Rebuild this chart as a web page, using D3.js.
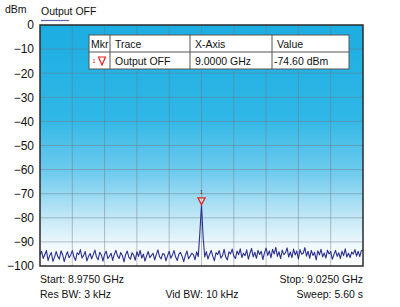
<!DOCTYPE html>
<html>
<head>
<meta charset="utf-8">
<script src="https://cdn.jsdelivr.net/npm/d3@7"></script>
<style>
  body { margin: 0; background: #fff; }
  svg { display: block; font-family: "Liberation Sans", Arial, sans-serif; }
  .ylab { font-size: 12px; fill: #111; }
  .info { font-size: 10.5px; fill: #111; }
  .tbl { font-size: 10.5px; fill: #111; }
</style>
</head>
<body>
<svg class="chart"></svg>
<script>
// Chart values
var startGHz = 8.975, stopGHz = 9.025;
var yTicks = [0, -10, -20, -30, -40, -50, -60, -70, -80, -90, -100];
var traceName = "Output OFF";
var markerFreq = 9.0000, markerLevel = -74.60;
var tableHeader = ["Mkr", "Trace", "X-Axis", "Value"];
var tableRow = ["1", "Output OFF", "9.0000 GHz", "-74.60 dBm"];
var footerLeft = ["Start: 8.9750 GHz", "Res BW: 3 kHz"];
var footerMid = ["", "Vid BW: 10 kHz"];
var footerRight = ["Stop: 9.0250 GHz", "Sweep: 5.60 s"];

// trace levels (dBm), 201 points across the span
var levels = [
  -95.5,-93.9,-96.9,-95.2,-93.6,-97.8,-95.6,-94.4,-98.1,-96.3,-94.0,-96.0,-97.2,-93.7,-95.3,-98.2,-95.8,-94.1,-96.6,-95.4,
  -93.6,-96.2,-97.7,-94.5,-95.3,-93.2,-96.7,-95.6,-94.0,-97.9,-96.1,-94.8,-97.0,-95.2,-93.4,-96.3,-97.4,-94.3,-95.4,-98.0,
  -95.1,-93.9,-96.9,-96.0,-94.7,-97.7,-95.2,-93.5,-95.8,-96.9,-94.4,-95.6,-98.3,-95.3,-93.8,-96.3,-97.2,-94.5,-95.5,-97.6,
  -94.1,-96.0,-93.5,-96.7,-95.1,-98.0,-95.8,-94.0,-96.5,-95.6,-94.7,-97.5,-95.3,-93.3,-96.1,-97.1,-94.8,-95.2,-97.9,-95.7,
  -93.9,-96.8,-95.4,-93.6,-96.3,-97.7,-95.1,-94.4,-96.0,-98.2,-95.6,-93.8,-97.0,-95.9,-94.7,-95.3,-97.4,-94.1,-96.1,-86.0,
  -74.6,-88.0,-96.2,-94.0,-97.1,-95.2,-93.5,-96.0,-97.8,-94.4,-95.3,-93.6,-96.7,-95.7,-93.1,-96.3,-97.5,-94.1,-95.0,-93.0,
  -95.8,-96.9,-93.8,-95.3,-92.9,-96.5,-94.7,-95.7,-93.3,-97.2,-94.8,-92.7,-96.2,-94.3,-96.8,-93.5,-95.2,-93.9,-97.4,-94.6,
  -92.6,-95.6,-93.7,-96.6,-93.1,-95.0,-92.3,-96.0,-94.1,-96.9,-93.4,-95.3,-94.5,-92.5,-96.3,-94.2,-96.5,-93.0,-95.4,-93.8,
  -97.1,-93.2,-95.1,-94.7,-92.4,-95.9,-93.9,-96.8,-93.5,-95.6,-94.3,-97.5,-93.7,-95.4,-93.1,-96.2,-94.6,-96.7,-93.4,-95.0,
  -94.0,-97.2,-95.3,-93.5,-96.0,-94.5,-96.9,-93.8,-95.7,-92.9,-96.3,-94.7,-96.5,-94.2,-95.1,-93.2,-95.9,-93.9,-96.1,-93.6,
  -93.4
];

var W = 400, H = 307;
var margin = {left: 40, right: 37, top: 25, bottom: 41};
var width = W - margin.left - margin.right,
    height = H - margin.top - margin.bottom;

var data = levels.map(function(v, i) {
  return {f: startGHz + (stopGHz - startGHz) * i / (levels.length - 1), v: v};
});

var x = d3.scaleLinear().domain([startGHz, stopGHz]).range([0, width]);
var y = d3.scaleLinear().domain([-100, 0]).range([height, 0]);

var svg = d3.select(".chart").attr("width", W).attr("height", H);

var defs = svg.append("defs");
var grad = defs.append("linearGradient")
    .attr("id", "bg").attr("x1", 0).attr("y1", 0).attr("x2", 0).attr("y2", 1);
grad.append("stop").attr("offset", "0%").attr("stop-color", "#1cade2");
grad.append("stop").attr("offset", "38%").attr("stop-color", "#2fb7e6");
grad.append("stop").attr("offset", "62%").attr("stop-color", "#72ccee");
grad.append("stop").attr("offset", "80%").attr("stop-color", "#c3e8f6");
grad.append("stop").attr("offset", "92%").attr("stop-color", "#f2fafd");
grad.append("stop").attr("offset", "100%").attr("stop-color", "#ffffff");

var chart = svg.append("g")
    .attr("transform", "translate(" + margin.left + "," + margin.top + ")");

// Plot background
chart.append("rect")
    .attr("width", width).attr("height", height)
    .attr("fill", "url(#bg)");

// Grid
var xGrid = d3.range(0, 11).map(function(i) { return startGHz + (stopGHz - startGHz) * i / 10; });
chart.append("g").selectAll("line")
    .data(xGrid.slice(1, -1))
  .enter().append("line")
    .attr("x1", function(d) { return x(d); }).attr("x2", function(d) { return x(d); })
    .attr("y1", 0).attr("y2", height)
    .attr("stroke", "rgba(110,120,130,0.45)").attr("stroke-width", 1);
chart.append("g").selectAll("line")
    .data(yTicks.slice(1, -1))
  .enter().append("line")
    .attr("y1", function(d) { return y(d); }).attr("y2", function(d) { return y(d); })
    .attr("x1", 0).attr("x2", width)
    .attr("stroke", "rgba(110,120,130,0.45)").attr("stroke-width", 1);

// Y axis labels
var yAxis = d3.axisLeft(y).tickValues(yTicks).tickSize(0).tickPadding(6);
var yg = chart.append("g").call(yAxis);
yg.select(".domain").remove();
yg.selectAll("text").attr("class", "ylab").attr("font-size", null).attr("font-family", null).attr("fill", null);

// Trace
var line = d3.line()
    .x(function(d) { return x(d.f); })
    .y(function(d) { return y(d.v); });
chart.append("path")
    .datum(data)
    .attr("d", line)
    .attr("fill", "none")
    .attr("stroke", "#2b2f8e")
    .attr("stroke-width", 1.1)
    .attr("stroke-linejoin", "round");

// Frame
chart.append("rect")
    .attr("width", width).attr("height", height)
    .attr("fill", "none").attr("stroke", "#2a2a2a").attr("stroke-width", 1.5);

// Marker
var mx = x(markerFreq), my = y(markerLevel);
chart.append("path")
    .attr("d", "M" + mx + "," + my + "L" + (mx - 3.5) + "," + (my - 7) + "L" + (mx + 3.5) + "," + (my - 7) + "Z")
    .attr("fill", "rgba(255,255,255,0.35)").attr("stroke", "#e8231f").attr("stroke-width", 1.3);
chart.append("text")
    .attr("x", mx).attr("y", my - 11)
    .attr("text-anchor", "middle")
    .attr("font-size", "5px").attr("fill", "#7a1010")
    .text("1");

// Marker table
var tbl = svg.append("g").attr("transform", "translate(89,35)");
var colX = [0, 21, 101, 183, 260];
var rowY = [0, 17, 34];
tbl.append("rect").attr("width", colX[4]).attr("height", rowY[2])
    .attr("fill", "#fff").attr("stroke", "#555").attr("stroke-width", 1);
tbl.append("line").attr("x1", 0).attr("x2", colX[4]).attr("y1", rowY[1]).attr("y2", rowY[1])
    .attr("stroke", "#555");
tbl.selectAll(".cdiv").data(colX.slice(1, 4)).enter().append("line")
    .attr("x1", function(d) { return d; }).attr("x2", function(d) { return d; })
    .attr("y1", 0).attr("y2", rowY[2]).attr("stroke", "#555");
tbl.selectAll(".hd").data(tableHeader).enter().append("text")
    .attr("class", "tbl")
    .attr("x", function(d, i) { return colX[i] + (i == 0 ? 2 : 5); })
    .attr("y", 12.5)
    .text(function(d) { return d; });
tbl.selectAll(".rw").data(tableRow.slice(1)).enter().append("text")
    .attr("class", "tbl")
    .attr("x", function(d, i) { return colX[i + 1] + (i == 2 ? 2 : 5); })
    .attr("y", 29.5)
    .text(function(d) { return d; });
tbl.append("text").attr("x", 3.5).attr("y", 28).attr("font-size", "5.5px").attr("fill", "#d42020").text(tableRow[0]);
tbl.append("path")
    .attr("d", "M13,30L9.5,22L16.5,22Z")
    .attr("fill", "none").attr("stroke", "#e8231f").attr("stroke-width", 1.2);

// Header texts
svg.append("text").attr("class", "info").attr("x", 5).attr("y", 13).text("dBm");
svg.append("text").attr("class", "info").attr("x", 41).attr("y", 15).text(traceName);
svg.append("line").attr("x1", 41).attr("x2", 69).attr("y1", 20.5).attr("y2", 20.5)
    .attr("stroke", "#5c63b0").attr("stroke-width", 1.2);

// Footer
var fy = [283, 298];
svg.selectAll(".fl").data(footerLeft).enter().append("text")
    .attr("class", "info").attr("x", margin.left).attr("y", function(d, i) { return fy[i]; })
    .text(function(d) { return d; });
svg.selectAll(".fm").data(footerMid).enter().append("text")
    .attr("class", "info").attr("x", 202).attr("y", function(d, i) { return fy[i]; })
    .attr("text-anchor", "middle")
    .text(function(d) { return d; });
svg.selectAll(".fr").data(footerRight).enter().append("text")
    .attr("class", "info").attr("x", margin.left + width).attr("y", function(d, i) { return fy[i]; })
    .attr("text-anchor", "end")
    .text(function(d) { return d; });
</script>
</body>
</html>
